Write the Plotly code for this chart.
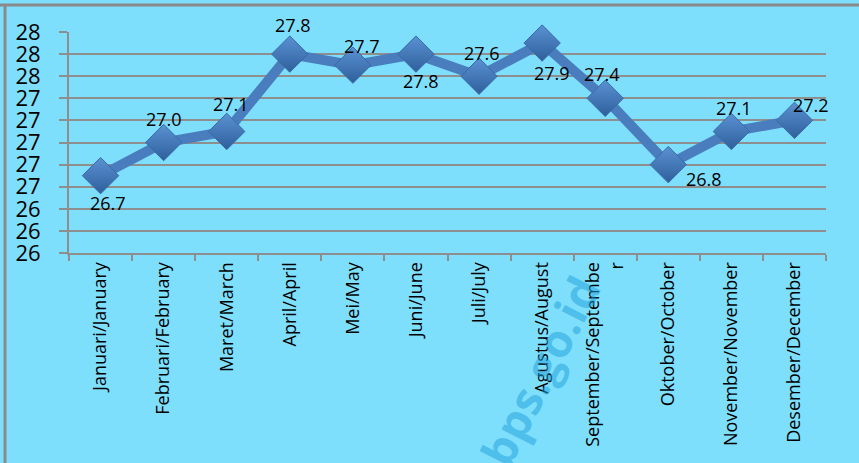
import plotly.graph_objects as go

months = ["Januari/January", "Februari/February", "Maret/March", "April/April",
          "Mei/May", "Juni/June", "Juli/July", "Agustus/August",
          "September/Septembe<br>r", "Oktober/October", "November/November",
          "Desember/December"]
values = [26.7, 27.0, 27.1, 27.8, 27.7, 27.8, 27.6, 27.9, 27.4, 26.8, 27.1, 27.2]
y_ticks = [26.0, 26.2, 26.4, 26.6, 26.8, 27.0, 27.2, 27.4, 27.6, 27.8, 28.0]

# label offsets (pixels) relative to each marker
label_dx = [7, 0, 4, 3, 9, 5, 3, 10, -3, 36, 3, 17]
label_dy = [-27, 24, 27, 29, 19, -27, 23, -30, 24, -14, 23, 15]

BG = "#7edffd"
GRID = "#8e8e8e"

fig = go.Figure()
fig.add_trace(go.Scatter(
    x=months, y=values,
    mode="lines+markers",
    line=dict(color="#4a7dbd", width=10),
    marker=dict(symbol="diamond", size=28, color="#5a92d3",
                line=dict(color="#3a6aa6", width=1),
                gradient=dict(type="vertical", color="#2f5f9c")),
    cliponaxis=False,
    showlegend=False,
))

for m, v, dx, dy in zip(months, values, label_dx, label_dy):
    fig.add_annotation(
        x=m, y=v, text=f"{v:.1f}", showarrow=False,
        xshift=dx, yshift=dy, xanchor="center", yanchor="middle",
        font=dict(family="Open Sans", size=18, color="black"),
    )

fig.add_annotation(
    text="<b>bps.go.id</b>", xref="paper", yref="paper",
    x=0.622, y=-0.53, xanchor="center", yanchor="middle",
    showarrow=False, textangle=-63,
    font=dict(family="Open Sans", size=46, color="rgba(30,160,215,0.5)"),
)

fig.add_shape(type="line", xref="paper", yref="paper",
              x0=-0.1, x1=1.1, y0=1.1222, y1=1.1222,
              line=dict(color="#8a8a8a", width=3))
fig.add_shape(type="line", xref="paper", yref="paper",
              x0=-0.0845, x1=-0.0845, y0=1.1222, y1=-1.2,
              line=dict(color="#8a8a8a", width=3))

fig.update_layout(
    width=859, height=463,
    margin=dict(l=69, r=33, t=32, b=210),
    paper_bgcolor=BG, plot_bgcolor=BG,
    font=dict(family="Open Sans", color="black"),
    xaxis=dict(
        tickangle=-90, tickson="boundaries", ticks="outside", ticklen=6,
        tickcolor=GRID, tickwidth=2, showline=True, linecolor=GRID, linewidth=2,
        showgrid=False, tickfont=dict(size=18),
        range=[-0.5, 11.5],
    ),
    yaxis=dict(
        range=[26.0, 28.0], tickvals=y_ticks, tickformat=".0f",
        ticks="outside", ticklen=8, tickcolor=GRID, tickwidth=2,
        showline=True, linecolor=GRID, linewidth=2,
        showgrid=True, gridcolor=GRID, gridwidth=2,
        tickfont=dict(size=22), zeroline=False,
        ticklabelstandoff=14,
    ),
)

fig.write_html("out.html", config={"displayModeBar": False},
               post_script="document.body.style.margin='0';")
